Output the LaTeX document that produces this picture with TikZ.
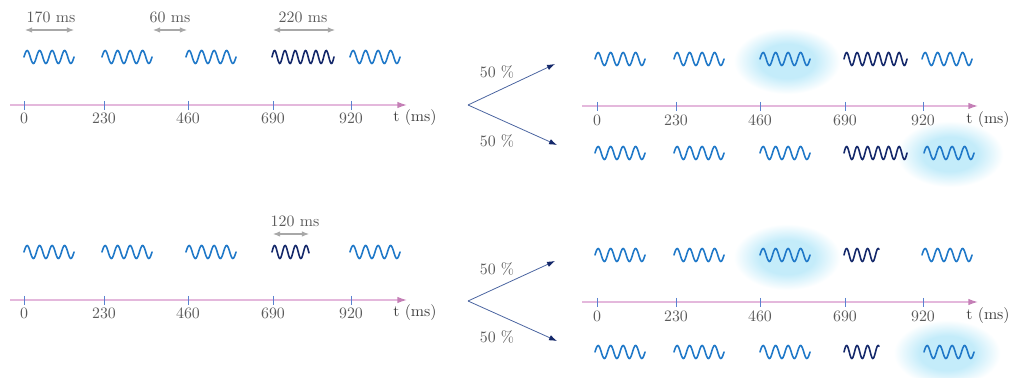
\documentclass[tikz,border=0pt]{standalone}
\usepackage{xcolor}
\definecolor{waveLight} {HTML}{1F78C8}
\definecolor{waveDark}  {HTML}{14286A}
\definecolor{axisPink}  {HTML}{E4B8DC}
\definecolor{axisTip}   {HTML}{C47FB6}
\definecolor{tickBlue}  {HTML}{5A82D0}
\definecolor{mutedtext} {HTML}{5A5A5A}
\definecolor{dimGray}   {HTML}{A8A8A8}
\definecolor{forkBlue}  {HTML}{4A64A0}
\definecolor{glowBack}  {HTML}{C4ECFA}
\usetikzlibrary{arrows.meta, positioning, calc}

\pgfdeclareradialshading{glowshade}{\pgfpoint{0bp}{0bp}}%
  {color(0bp)=(glowBack); color(12bp)=(glowBack); color(23bp)=(white); color(25bp)=(white); color(50bp)=(white)}

% one burst of signal: x, y, length, period, style
\newcommand{\wavelet}[5]{%
  \draw[#5, shift={(#1,#2)}]
    plot[domain=0:#3, samples=90, smooth, variable=\t] (\t, {-6.5*sin(\t/#4*360)});}

\begin{document}
\begin{tikzpicture}[x=0.63pt, y=-0.63pt,
    lightwave/.style={waveLight, line width=1pt, line cap=round},
    darkwave/.style={waveDark, line width=1pt, line cap=round},
    timeaxis/.style={axisPink, line width=0.8pt, -{Latex[length=6pt, width=4pt, color=axisTip]}},
    tickmark/.style={tickBlue, line width=0.6pt},
    ticklabel/.style={text=mutedtext, inner sep=1pt},
    unitlabel/.style={text=black!75, inner sep=1pt},
    dimarrow/.style={dimGray, line width=0.7pt, {Latex[length=4.5pt, width=3.5pt]}-{Latex[length=4.5pt, width=3.5pt]}},
    dimlabel/.style={text=mutedtext, inner sep=1pt},
    forkarrow/.style={forkBlue, line width=0.5pt, -{Latex[length=5pt, width=3.5pt, color=waveDark]}},
    problabel/.style={text=mutedtext, inner sep=1pt},
  ]
    \useasboundingbox (0,0) rectangle (1014,378);

    % Glow behind the burst that is picked in each outcome.
    \foreach \g/\gx/\gy in {g1/787/61, g2/950/154, g3/787/257, g4/947/353} {
        \coordinate (\g) at (\gx,\gy);
        \shade[shading=glowshade] (\g) ellipse (58 and 36);
    }

    % Time axes, left panels (input) and right panels (outcomes).
    \foreach \pn/\ya in {a/105, b/300} {
        \coordinate (axL-\pn-s) at (10,\ya);
        \coordinate (axL-\pn-e) at (407,\ya);
        \draw[timeaxis] (axL-\pn-s) -- (axL-\pn-e);
        \foreach \tx/\tv in {24/0, 104/230, 188/460, 273/690, 351/920} {
            \draw[tickmark] (\tx,\ya-4) -- (\tx,\ya+5);
            \node[ticklabel] (tL-\pn-\tv) at (\tx,\ya+13) {\tv};
        }
        \node[unitlabel] (unitL-\pn) at (415,\ya+13) {t (ms)};
    }
    \foreach \pn/\ya in {a/106, b/302} {
        \coordinate (axR-\pn-s) at (582,\ya);
        \coordinate (axR-\pn-e) at (978,\ya);
        \draw[timeaxis] (axR-\pn-s) -- (axR-\pn-e);
        \foreach \tx/\tv in {597/0, 676/230, 760/460, 845/690, 923/920} {
            \draw[tickmark] (\tx,\ya-4) -- (\tx,\ya+5);
            \node[ticklabel] (tR-\pn-\tv) at (\tx,\ya+14) {\tv};
        }
        \node[unitlabel] (unitR-\pn) at (988,\ya+14) {t (ms)};
    }

    % Left panels: regular bursts, one longer (top) or shorter (bottom).
    \foreach \wx in {24, 102, 186, 350} {
        \wavelet{\wx}{57}{50}{12.5}{lightwave}
        \wavelet{\wx}{252}{50}{12.5}{lightwave}
    }
    \wavelet{272}{57}{62}{10.33}{darkwave}
    \wavelet{272}{252}{37}{10.5}{darkwave}

    % Right panels: two outcomes each.
    \foreach \wx in {595, 674, 760} {
        \foreach \wy in {59, 153, 255, 352} {
            \wavelet{\wx}{\wy}{50}{12.5}{lightwave}
        }
    }
    \wavelet{922}{59}{50}{12.5}{lightwave}
    \wavelet{924}{153}{50}{12.5}{lightwave}
    \wavelet{922}{255}{50}{12.5}{lightwave}
    \wavelet{924}{352}{50}{12.5}{lightwave}
    \wavelet{844}{59}{63}{10.5}{darkwave}
    \wavelet{844}{153}{63}{10.5}{darkwave}
    \wavelet{844}{255}{35}{10.5}{darkwave}
    \wavelet{844}{352}{35}{10.5}{darkwave}

    % Durations.
    \coordinate (d170a) at (25,30);  \coordinate (d170b) at (74,30);
    \coordinate (d60a)  at (153,30); \coordinate (d60b)  at (187,30);
    \coordinate (d220a) at (273,30); \coordinate (d220b) at (335,30);
    \coordinate (d120a) at (273,234); \coordinate (d120b) at (309,234);
    \draw[dimarrow] (d170a) -- (d170b);
    \draw[dimarrow] (d60a) -- (d60b);
    \draw[dimarrow] (d220a) -- (d220b);
    \draw[dimarrow] (d120a) -- (d120b);
    \node[dimlabel] (l170) at (51,17)  {170 ms};
    \node[dimlabel] (l60)  at (170,17) {60 ms};
    \node[dimlabel] (l220) at (303,17) {220 ms};
    \node[dimlabel] (l120) at (295,221) {120 ms};

    % Forks towards the two outcomes.
    \foreach \fk/\fy/\uy/\ly in {fa/105/64/145, fb/301/261/341} {
        \coordinate (\fk-o) at (468,\fy);
        \coordinate (\fk-u) at (555,\uy);
        \coordinate (\fk-l) at (557,\ly);
        \draw[forkarrow] (\fk-o) -- (\fk-u);
        \draw[forkarrow] (\fk-o) -- (\fk-l);
        \node[problabel] (\fk-pu) at (497,\uy+8) {50 \%};
        \node[problabel] (\fk-pl) at (497,\ly-4) {50 \%};
    }
\end{tikzpicture}
\end{document}
